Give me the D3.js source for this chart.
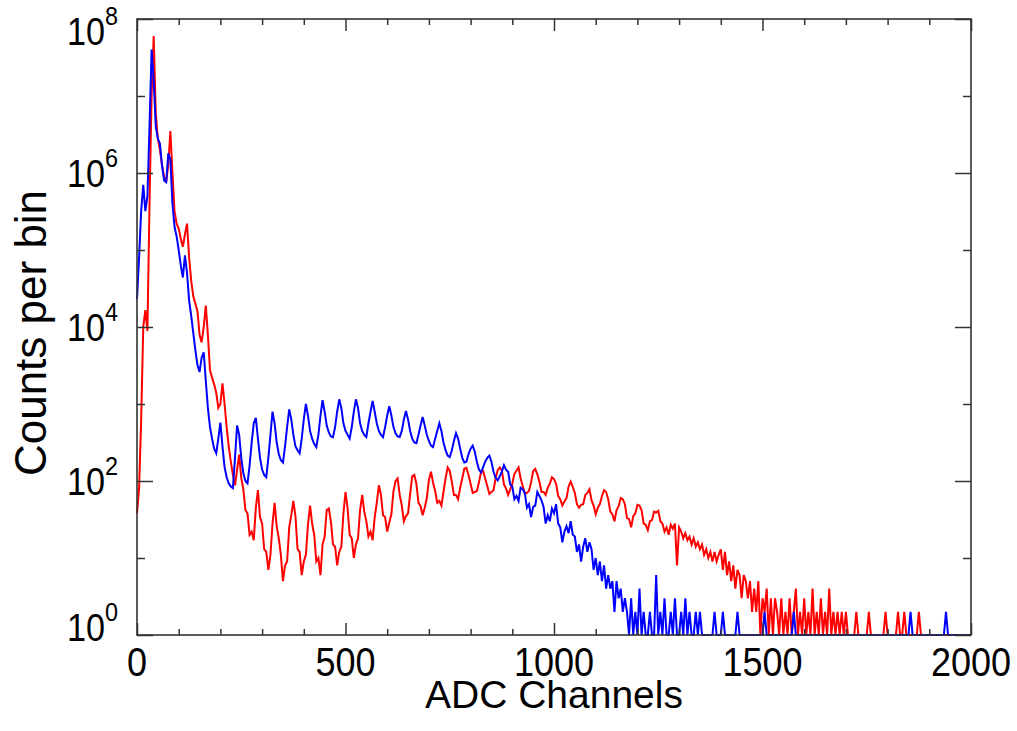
<!DOCTYPE html>
<html>
<head>
<meta charset="utf-8">
<script src="https://cdn.jsdelivr.net/npm/d3@7"></script>
<style>
  body { margin: 0; background: #fff; }
  text { font-family: "Liberation Sans", Arial, Helvetica, sans-serif; fill: #000; }
</style>
</head>
<body>
<svg id="chart" width="1017" height="731"></svg>
<script>
// bins every 5 ADC channels, 0..2000
const channels = d3.range(0, 2001, 5)

// counts per bin, one row = 100 channels
const blueCounts = [
  2.3e4, 8e4, 3.2e5, 7e5, 3.2e5, 5e5, 4e6, 4e7, 1.6e7, 4e6, 2.8e6, 2.4e6, 1.26e6, 8e5, 7.6e5, 1.8e6, 1.5e6, 4e5, 2e5, 1.5e5,
  1e5, 6.3e4, 4.4e4, 8.5e4, 5e4, 2.2e4, 1.4e4, 8300, 5000, 3200, 2600, 4000, 4700, 2000, 890, 500, 355, 263, 229, 355,
  575, 282, 151, 112, 93, 85, 81, 200, 525, 398, 200, 126, 100, 93, 158, 316, 562, 660, 355, 200,
  141, 120, 112, 200, 398, 794, 562, 316, 224, 186, 174, 282, 501, 851, 631, 398, 282, 251, 229, 355,
  631, 1000, 708, 447, 355, 302, 275, 398, 708, 1120, 794, 525, 427, 380, 372, 501, 794, 1150, 891, 562,
  447, 398, 355, 501, 794, 1150, 891, 562, 447, 398, 372, 562, 794, 1100, 794, 562, 447, 398, 372, 501,
  708, 933, 708, 501, 417, 380, 372, 447, 631, 813, 631, 447, 355, 316, 309, 398, 525, 676, 525, 398,
  331, 288, 275, 355, 447, 562, 447, 316, 251, 214, 204, 251, 331, 417, 355, 263, 200, 174, 178, 224,
  263, 288, 240, 178, 141, 129, 151, 178, 200, 214, 178, 132, 110, 102, 115, 132, 160, 140, 132, 90,
  85, 58, 64, 55, 82, 78, 70, 45, 50, 34, 46, 48, 72, 64, 56, 46, 28, 36, 30, 44,
  38, 50, 28, 25, 16, 22, 26, 21, 30, 20, 19, 12, 15, 9, 14, 18, 12, 16, 13, 7,
  10, 6, 9, 5, 8, 4, 6, 4, 5, 2, 5, 3, 4, 2, 3, 2, 1, 3, 0, 2,
  1, 4, 0, 2, 1, 0, 2, 1, 0, 6, 1, 2, 0, 3, 1, 0, 2, 0, 3, 1,
  0, 2, 0, 3, 0, 2, 0, 0, 2, 0, 2, 0, 0, 0, 0, 0, 0, 2, 0, 0,
  0, 2, 0, 0, 0, 0, 0, 0, 2, 0, 0, 0, 0, 0, 0, 0, 0, 0, 0, 0,
  0, 2, 0, 0, 0, 0, 0, 0, 0, 0, 0, 0, 0, 0, 0, 2, 0, 0, 0, 0,
  0, 0, 0, 0, 0, 0, 0, 0, 0, 0, 0, 0, 0, 0, 0, 0, 0, 0, 0, 0,
  0, 0, 0, 0, 0, 0, 0, 0, 0, 0, 0, 0, 0, 0, 0, 0, 0, 0, 0, 0,
  0, 0, 0, 0, 0, 0, 0, 0, 0, 0, 0, 2, 0, 0, 0, 0, 0, 0, 0, 0,
  0, 0, 0, 0, 0, 0, 0, 0, 2, 0, 0, 0, 0, 0, 0, 0, 0, 0, 0, 0,
  0
]

const redCounts = [
  38, 80, 630, 1e4, 1.66e4, 8900, 4e5, 1e7, 6e7, 6e6, 2.8e6, 2e6, 1.26e6, 8.9e5, 7.6e5, 1.26e6, 3.5e6, 1e6, 3.2e5, 2.2e5,
  1.9e5, 1.4e5, 1.1e5, 1.6e5, 2.2e5, 8e4, 4e4, 2.5e4, 2e4, 1.6e4, 8000, 6300, 1e4, 1.9e4, 7900, 2750, 2200, 1800, 1400, 890,
  1000, 1860, 1000, 500, 280, 178, 120, 88, 140, 220, 110, 78, 42, 38, 20, 22, 17, 45, 76, 34,
  28, 13, 12, 7, 11, 28, 52, 26, 18, 11, 5, 8, 9, 25, 36, 55, 35, 13, 12, 6,
  9, 11, 27, 48, 28, 20, 9, 10, 6, 15, 19, 42, 44, 30, 15, 14, 8, 12, 14, 38,
  72, 44, 20, 18, 10, 15, 18, 42, 66, 40, 30, 19, 22, 17, 34, 52, 88, 66, 36, 34,
  22, 29, 37, 74, 100, 108, 66, 48, 30, 35, 38, 68, 115, 120, 92, 52, 47, 36, 45, 60,
  104, 132, 95, 74, 52, 55, 48, 72, 108, 150, 135, 98, 66, 66, 58, 82, 108, 145, 148, 120,
  92, 70, 72, 74, 96, 130, 135, 108, 86, 68, 72, 76, 108, 138, 150, 136, 90, 80, 66, 78,
  92, 124, 136, 150, 108, 86, 68, 70, 74, 96, 134, 144, 122, 98, 72, 72, 66, 82, 92, 112,
  106, 92, 64, 58, 48, 54, 60, 85, 98, 84, 70, 50, 45, 49, 50, 66, 70, 78, 56, 48,
  37, 45, 50, 64, 76, 72, 58, 40, 37, 30, 42, 47, 60, 58, 50, 33, 32, 25, 35, 38,
  49, 48, 42, 28, 27, 23, 30, 31, 40, 39, 41, 30, 28, 22, 25, 20, 27, 24, 28, 8,
  25, 22, 18, 21, 17, 19, 15, 18, 14, 16, 13, 15, 11, 13, 10, 12, 9, 12, 9, 11,
  13, 7, 12, 6, 9, 5, 8, 4, 7, 6, 3, 6, 5, 3, 5, 2, 4, 2, 5, 1,
  3, 2, 4, 1, 3, 0, 3, 2, 0, 3, 1, 2, 0, 3, 1, 2, 4, 0, 2, 0,
  3, 1, 2, 0, 4, 0, 2, 1, 3, 0, 2, 0, 4, 0, 2, 0, 2, 0, 2, 0,
  2, 0, 0, 0, 0, 2, 0, 0, 0, 0, 0, 2, 0, 0, 0, 0, 0, 0, 0, 2,
  0, 0, 0, 0, 0, 2, 0, 0, 2, 0, 0, 0, 0, 0, 0, 2, 0, 0, 0, 0,
  0, 0, 0, 0, 0, 0, 0, 0, 0, 0, 0, 0, 0, 0, 0, 0, 0, 0, 0, 0,
  0
]

const xMajorTicks = [0, 500, 1000, 1500, 2000]
const xMinorTicks = [100, 200, 300, 400, 600, 700, 800, 900, 1100, 1200, 1300, 1400, 1600, 1700, 1800, 1900]
const yMajorTicks = [1e0, 1e2, 1e4, 1e6, 1e8]
const yMinorTicks = [1e1, 1e3, 1e5, 1e7]
const yTickExponents = ['0', '2', '4', '6', '8']

const svg = d3.select('#chart')
const plotLeft = 137, plotRight = 971, plotTop = 19, plotBottom = 635

const x = d3.scaleLinear().domain([0, 2000]).range([plotLeft, plotRight])
const y = d3.scaleLog().domain([1, 1e8]).range([plotBottom, plotTop]).clamp(true)

// spectra, red under blue
const line = d3.line()
    .x((d, i) => x(channels[i]))
    .y(d => y(Math.max(d, 1)))

svg.append('path')
    .datum(redCounts)
    .attr('fill', 'none')
    .attr('stroke', '#ff0000')
    .attr('stroke-width', 2)
    .attr('d', line)

svg.append('path')
    .datum(blueCounts)
    .attr('fill', 'none')
    .attr('stroke', '#0000ff')
    .attr('stroke-width', 2)
    .attr('d', line)

// ticks on all four sides, pointing in
const tickAxis = function (axis, pos, values, size) {
    const g = svg.append('g')
        .attr('transform', pos)
        .call(axis.tickValues(values).tickSize(-size).tickSizeOuter(0).tickFormat(''))
    g.select('.domain').remove()
    g.selectAll('line').attr('stroke', '#333').attr('stroke-width', 1.5)
    return g
}

tickAxis(d3.axisBottom(x), `translate(0,${plotBottom})`, xMajorTicks, 12)
tickAxis(d3.axisBottom(x), `translate(0,${plotBottom})`, xMinorTicks, 6)
tickAxis(d3.axisTop(x), `translate(0,${plotTop})`, xMajorTicks, 12)
tickAxis(d3.axisTop(x), `translate(0,${plotTop})`, xMinorTicks, 6)
tickAxis(d3.axisLeft(y), `translate(${plotLeft},0)`, yMajorTicks, 16)
tickAxis(d3.axisLeft(y), `translate(${plotLeft},0)`, yMinorTicks, 8)
tickAxis(d3.axisRight(y), `translate(${plotRight},0)`, yMajorTicks, 16)
tickAxis(d3.axisRight(y), `translate(${plotRight},0)`, yMinorTicks, 8)

svg.append('rect')
    .attr('x', plotLeft).attr('y', plotTop)
    .attr('width', plotRight - plotLeft).attr('height', plotBottom - plotTop)
    .attr('fill', 'none')
    .attr('stroke', '#333')
    .attr('stroke-width', 1.6)

// tick labels, a little narrow like the original font
svg.append('g').selectAll('text')
    .data(xMajorTicks)
    .join('text')
    .attr('transform', d => `translate(${x(d)},${plotBottom + 41}) scale(0.9,1)`)
    .attr('text-anchor', 'middle')
    .attr('font-size', 40)
    .text(d => d)

// top and bottom labels are kept inside the frame height
const yLabels = svg.append('g').selectAll('text')
    .data(yMajorTicks)
    .join('text')
    .attr('transform', d => `translate(${plotLeft - 19},${Math.min(Math.max(y(d) + 14, 45), 641)}) scale(0.9,1)`)
    .attr('text-anchor', 'end')
    .attr('font-size', 38)
yLabels.append('tspan').text('10')
yLabels.append('tspan')
    .attr('font-size', 26)
    .attr('dy', -20)
    .text((d, i) => yTickExponents[i])

// axis titles
svg.append('text')
    .attr('x', (plotLeft + plotRight) / 2)
    .attr('y', 708)
    .attr('text-anchor', 'middle')
    .attr('font-size', 39)
    .text('ADC Channels')

svg.append('text')
    .attr('transform', 'translate(46,333) rotate(-90)')
    .attr('text-anchor', 'middle')
    .attr('font-size', 44)
    .text('Counts per bin')
</script>
</body>
</html>
